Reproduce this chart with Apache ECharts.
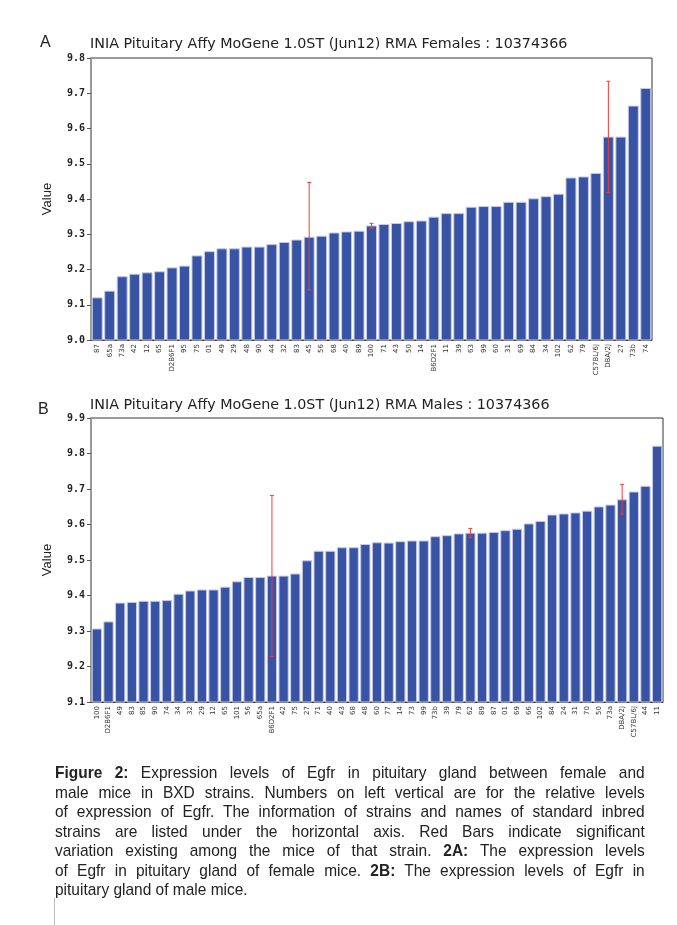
<!DOCTYPE html>
<html>
<head>
<meta charset="utf-8">
<script src="https://cdn.jsdelivr.net/npm/echarts@6/dist/echarts.min.js"></script>
<style>
  html, body { margin: 0; padding: 0; background: #fff; }
  #wrap { position: relative; width: 677px; height: 925px; }
  #chart { position: absolute; left: 0; top: 0; width: 677px; height: 925px; }
  #caption {
    position: absolute; left: 55px; top: 763px; width: 648px;
    transform: scaleX(0.91); transform-origin: 0 0;
    font-family: "Liberation Sans", Arial, sans-serif;
    font-size: 17px; line-height: 19.5px; color: #222;
  }
  #caption div { text-align: justify; text-align-last: justify; }
  #caption div.last { text-align-last: left; }
  #rule { position: absolute; left: 54px; top: 898px; width: 1px; height: 27px; background: #bbb; }
</style>
</head>
<body>
<div id="wrap">
  <div id="chart"></div>
  <div id="caption">
    <div><b>Figure 2:</b> Expression levels of Egfr in pituitary gland between female and</div>
    <div>male mice in BXD strains. Numbers on left vertical are for the relative levels</div>
    <div>of expression of Egfr. The information of strains and names of standard inbred</div>
    <div>strains are listed under the horizontal axis. Red Bars indicate significant</div>
    <div>variation existing among the mice of that strain. <b>2A:</b> The expression levels</div>
    <div>of Egfr in pituitary gland of female mice. <b>2B:</b> The expression levels of Egfr in</div>
    <div class="last">pituitary gland of male mice.</div>
  </div>
  <div id="rule"></div>
</div>
<script>
// females (A)
var strainsA = ['87', '65a', '73a', '42', '12', '65', 'D2B6F1', '95', '75', '01', '49', '29', '48', '90', '44',
  '32', '83', '45', '56', '68', '40', '89', '100', '71', '43', '50', '14', 'B6D2F1', '11', '39', '63', '99',
  '60', '31', '69', '84', '34', '102', '62', '79', 'C57BL/6J', 'DBA/2J', '27', '73b', '74'];
var valuesA = [9.121, 9.140, 9.181, 9.188, 9.192, 9.195, 9.206, 9.211, 9.240, 9.252, 9.260, 9.260, 9.265, 9.265, 9.272,
  9.278, 9.285, 9.293, 9.296, 9.305, 9.308, 9.310, 9.325, 9.329, 9.332, 9.337, 9.339, 9.350, 9.360, 9.360, 9.378, 9.380,
  9.380, 9.392, 9.392, 9.402, 9.408, 9.415, 9.461, 9.464, 9.474, 9.577, 9.577, 9.665, 9.715];
var errorsA = [['45', 9.142, 9.447], ['100', 9.317, 9.331], ['DBA/2J', 9.418, 9.734]];

// males (B)
var strainsB = ['100', 'D2B6F1', '49', '83', '85', '90', '74', '34', '32', '29', '12', '65', '101', '56', '65a',
  'B6D2F1', '42', '75', '27', '71', '40', '43', '68', '48', '60', '77', '14', '73', '99', '73b', '39', '79', '62',
  '89', '87', '01', '69', '66', '102', '84', '24', '31', '70', '50', '73a', 'DBA/2J', 'C57BL/6J', '44', '11'];
var valuesB = [9.307, 9.327, 9.380, 9.382, 9.385, 9.385, 9.387, 9.405, 9.414, 9.417, 9.417, 9.425, 9.440, 9.452, 9.452,
  9.456, 9.456, 9.462, 9.499, 9.526, 9.526, 9.536, 9.536, 9.545, 9.550, 9.549, 9.553, 9.555, 9.555, 9.567, 9.570, 9.575, 9.577,
  9.577, 9.579, 9.584, 9.588, 9.603, 9.610, 9.628, 9.631, 9.634, 9.639, 9.651, 9.656, 9.671, 9.693, 9.709, 9.822];
var errorsB = [['B6D2F1', 9.228, 9.682], ['62', 9.564, 9.589], ['DBA/2J', 9.629, 9.713]];

var titleA = 'INIA Pituitary Affy MoGene 1.0ST (Jun12) RMA Females : 10374366';
var titleB = 'INIA Pituitary Affy MoGene 1.0ST (Jun12) RMA Males : 10374366';

var barColor = '#3953a4';

function errData(errs, strains){
    return errs.map(function(e){ return [strains.indexOf(e[0]), e[1], e[2]]; });
}

// red whisker with small caps
function errBar(params, api){
    var x = api.value(0);
    var lo = api.coord([x, api.value(1)]);
    var hi = api.coord([x, api.value(2)]);
    var st = { stroke: '#f03c3c', lineWidth: 1 };
    var cap = 2;
    return {
        type: 'group',
        children: [
            { type: 'line', shape: { x1: lo[0], y1: hi[1], x2: lo[0], y2: lo[1] }, style: st },
            { type: 'line', shape: { x1: lo[0] - cap, y1: hi[1], x2: lo[0] + cap, y2: hi[1] }, style: st },
            { type: 'line', shape: { x1: lo[0] - cap, y1: lo[1], x2: lo[0] + cap, y2: lo[1] }, style: st }
        ]
    };
}

function xAx(idx, cats){
    return {
        type: 'category', gridIndex: idx, data: cats,
        axisLine: { lineStyle: { color: '#444', width: 1 } },
        axisTick: { show: false },
        axisLabel: {
            interval: 0, rotate: 90, margin: 4,
            fontFamily: 'DejaVu Sans', fontSize: 7, color: '#333'
        }
    };
}

function yAx(idx, mn, mx){
    return {
        type: 'value', gridIndex: idx, min: mn, max: mx, interval: 0.1,
        name: 'Value', nameLocation: 'middle', nameGap: 37, nameRotate: 90,
        nameTextStyle: { fontFamily: 'Liberation Sans', fontSize: 13, color: '#222' },
        axisLine: { show: true, lineStyle: { color: '#999', width: 2 } },
        axisTick: { show: true, length: 4, lineStyle: { color: '#555' } },
        splitLine: { show: false },
        axisLabel: {
            margin: 6, fontFamily: 'DejaVu Sans Mono', fontWeight: 'bold', fontSize: 10, color: '#222',
            formatter: function(v){ return v.toFixed(1); }
        }
    };
}

var chart = echarts.init(document.getElementById('chart'), null, { renderer: 'canvas' });

var letterStyle = { fontFamily: 'Liberation Sans', fontSize: 16, fontWeight: 'normal', color: '#222' };
var headStyle = { fontFamily: 'DejaVu Sans', fontSize: 14.3, fontWeight: 'normal', color: '#222' };

var option = {
    animation: false,
    backgroundColor: '#fff',
    title: [
        { text: 'A', left: 40, top: 35, padding: 0, textStyle: letterStyle },
        { text: titleA, left: 90, top: 37, padding: 0, textStyle: headStyle },
        { text: 'B', left: 38, top: 402, padding: 0, textStyle: letterStyle },
        { text: titleB, left: 90, top: 398, padding: 0, textStyle: headStyle }
    ],
    grid: [
        { left: 91, top: 58, right: 25, height: 282, show: true, borderColor: '#333', borderWidth: 1 },
        { left: 91, top: 418, right: 14, height: 284, show: true, borderColor: '#333', borderWidth: 1 }
    ],
    xAxis: [xAx(0, strainsA), xAx(1, strainsB)],
    yAxis: [yAx(0, 9.0, 9.8), yAx(1, 9.1, 9.9)],
    series: [
        {
            type: 'bar', xAxisIndex: 0, yAxisIndex: 0, data: valuesA,
            barCategoryGap: '12%',
            itemStyle: { color: barColor, borderColor: '#c4cae6', borderWidth: 1 }
        },
        {
            type: 'custom', xAxisIndex: 0, yAxisIndex: 0, z: 5,
            renderItem: errBar, data: errData(errorsA, strainsA)
        },
        {
            type: 'bar', xAxisIndex: 1, yAxisIndex: 1, data: valuesB,
            barCategoryGap: '12%',
            itemStyle: { color: barColor, borderColor: '#c4cae6', borderWidth: 1 }
        },
        {
            type: 'custom', xAxisIndex: 1, yAxisIndex: 1, z: 5,
            renderItem: errBar, data: errData(errorsB, strainsB)
        }
    ]
};

chart.setOption(option);
</script>
</body>
</html>
